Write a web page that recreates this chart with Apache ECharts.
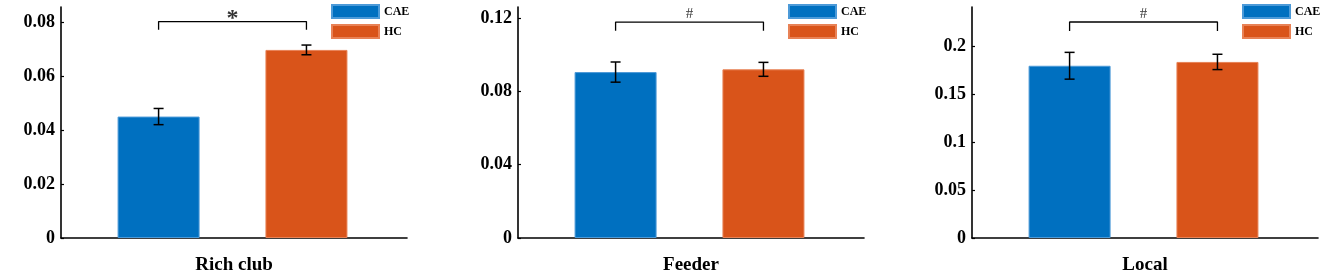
<!DOCTYPE html>
<html>
<head>
<meta charset="utf-8">
<script src="https://cdn.jsdelivr.net/npm/echarts@6/dist/echarts.min.js"></script>
<style>
  html, body { margin: 0; padding: 0; background: #fff; }
  #chart { width: 1325px; height: 280px; }
</style>
</head>
<body>
<div id="chart"></div>
<script>
// groups and panels
const groups = ['CAE', 'HC'];
const panelNames = ['Rich club', 'Feeder', 'Local'];

// mean values per panel (CAE, HC)
const richClubMean = [0.045, 0.0697];
const feederMean = [0.0905, 0.092];
const localMean = [0.180, 0.184];

// error bar half-lengths
const richClubErr = [0.003, 0.0018];
const feederErr = [0.0055, 0.0038];
const localErr = [0.014, 0.008];

// significance marks and bracket levels [leg end, top]
const signifMarks = ['*', '#', '#'];
const bracketLevels = [[0.0772, 0.0802], [0.113, 0.1178], [0.2164, 0.2257]];

// y axis scale
const yMax = [0.0856, 0.126, 0.2414];
const yInterval = [0.02, 0.04, 0.05];

const means = [richClubMean, feederMean, localMean];
const errs = [richClubErr, feederErr, localErr];

const colors = ['#0070C0', '#D9541A'];
const borders = ['#4c9ad8', '#e88256'];
const font = '"Liberation Serif", "Times New Roman", serif';

const gridLeft = [61, 518, 972];
const legendLeft = [331, 788, 1242];

const chart = echarts.init(document.getElementById('chart'));

const grid = [], xAxis = [], yAxis = [], legend = [], series = [];

panelNames.forEach((name, i) => {
  grid.push({ left: gridLeft[i], width: 346, top: 7, bottom: 29 });

  xAxis.push({
    type: 'value',
    gridIndex: i,
    min: 0.34,
    max: 2.68,
    name: name,
    nameLocation: 'middle',
    nameGap: 18,
    nameTextStyle: { fontFamily: font, fontWeight: 'bold', fontSize: 19, color: '#000' },
    axisLine: { onZero: false, lineStyle: { color: '#000', width: 1.6 } },
    axisTick: { show: false },
    axisLabel: { show: false },
    splitLine: { show: false }
  });

  yAxis.push({
    type: 'value',
    gridIndex: i,
    min: 0,
    max: yMax[i],
    interval: yInterval[i],
    axisLine: { show: true, onZero: false, lineStyle: { color: '#000', width: 1.6 } },
    axisTick: { show: true, inside: true, length: 3, lineStyle: { color: '#000', width: 1.2 } },
    axisLabel: {
      showMaxLabel: false,
      margin: 6,
      fontFamily: font,
      fontWeight: 'bold',
      fontSize: 18,
      color: '#000'
    },
    splitLine: { show: false }
  });

  legend.push({
    data: groups,
    orient: 'vertical',
    left: legendLeft[i],
    top: 4,
    padding: 0,
    itemWidth: 47,
    itemHeight: 13,
    itemGap: 5,
    icon: 'rect',
    selectedMode: false,
    textStyle: { fontFamily: font, fontWeight: 'bold', fontSize: 12, color: '#000', lineHeight: 13 }
  });

  // bars
  groups.forEach((g, k) => {
    series.push({
      type: 'bar',
      name: g,
      xAxisIndex: i,
      yAxisIndex: i,
      barWidth: 82,
      barGap: '-100%',
      itemStyle: { color: colors[k], borderColor: borders[k], borderWidth: 1 },
      data: [[k + 1, means[i][k]]]
    });
  });

  // error bars
  series.push({
    type: 'custom',
    name: 'err' + i,
    xAxisIndex: i,
    yAxisIndex: i,
    z: 5,
    data: groups.map((g, k) => [k + 1, means[i][k] - errs[i][k], means[i][k] + errs[i][k]]),
    renderItem: function (params, api) {
      const x = api.value(0);
      const lo = api.coord([x, api.value(1)]);
      const hi = api.coord([x, api.value(2)]);
      const st = { stroke: '#000', lineWidth: 1.5 };
      return {
        type: 'group',
        children: [
          { type: 'line', shape: { x1: lo[0], y1: lo[1], x2: hi[0], y2: hi[1] }, style: st },
          { type: 'line', shape: { x1: lo[0] - 5, y1: lo[1], x2: lo[0] + 5, y2: lo[1] }, style: st },
          { type: 'line', shape: { x1: hi[0] - 5, y1: hi[1], x2: hi[0] + 5, y2: hi[1] }, style: st }
        ]
      };
    }
  });

  // significance bracket
  const b = bracketLevels[i];
  series.push({
    type: 'line',
    name: 'bracket' + i,
    xAxisIndex: i,
    yAxisIndex: i,
    symbol: 'none',
    silent: true,
    lineStyle: { color: '#000', width: 1.3 },
    data: [[1, b[0]], [1, b[1]], [2, b[1]], [2, b[0]]]
  });

  const star = signifMarks[i] === '*';
  series.push({
    type: 'scatter',
    name: 'mark' + i,
    xAxisIndex: i,
    yAxisIndex: i,
    symbolSize: 0,
    silent: true,
    label: {
      show: true,
      position: 'top',
      distance: star ? -9 : 0,
      formatter: signifMarks[i],
      fontFamily: font,
      fontWeight: star ? 'bold' : 'normal',
      fontSize: star ? 24 : 15,
      color: '#000'
    },
    data: [[1.5, b[1]]]
  });
});

chart.setOption({
  animation: false,
  grid: grid,
  xAxis: xAxis,
  yAxis: yAxis,
  legend: legend,
  series: series
});
</script>
</body>
</html>
